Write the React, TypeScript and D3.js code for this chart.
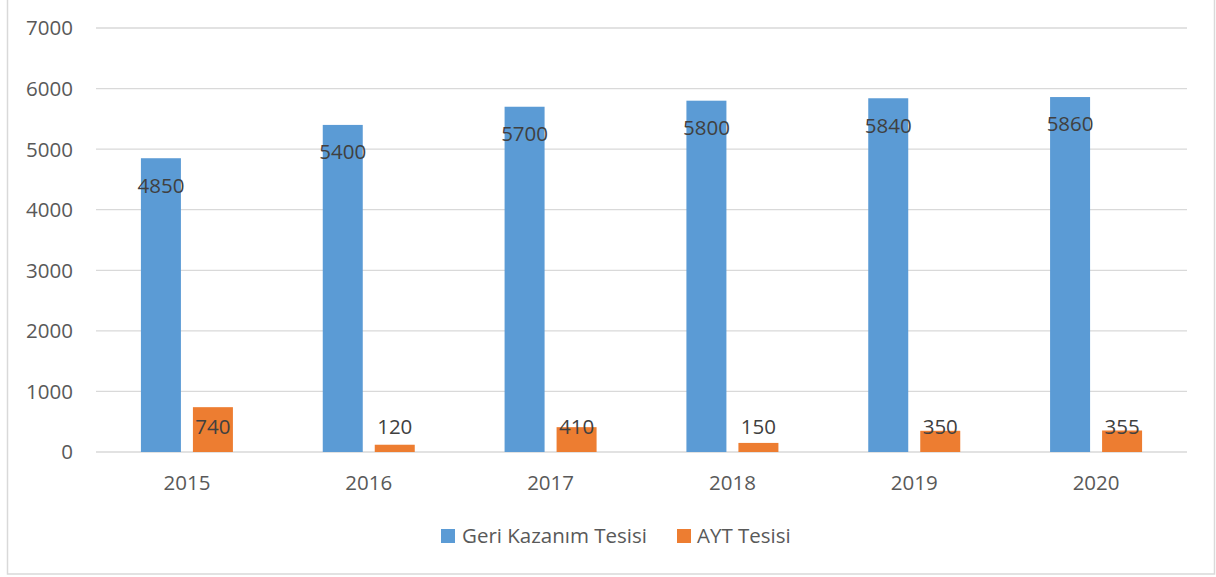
import React from 'react';
import * as d3 from 'd3';

const years = ['2015', '2016', '2017', '2018', '2019', '2020'];
const seriesNames = ['Geri Kazanım Tesisi', 'AYT Tesisi'];
const geriKazanim = [4850, 5400, 5700, 5800, 5840, 5860];
const aytTesisi = [740, 120, 410, 150, 350, 355];
const yTicks = [0, 1000, 2000, 3000, 4000, 5000, 6000, 7000];
const colors = ['#5B9BD5', '#ED7D31'];

const W = 1216;
const H = 577;
const FONT = '"Open Sans", Lato, sans-serif';
const FS = 20.5;

const App = () => {
  const x = d3.scaleBand<string>().domain(years).range([96, 1187]);
  const sub = d3.scaleBand<string>().domain(seriesNames).range([-46, 46]).paddingInner(12 / 52);
  const y = d3.scaleLinear().domain([0, 7000]).range([452, 28]);
  const values = [geriKazanim, aytTesisi];
  const y0 = y(0);

  return (
    <svg width={W} height={H} style={{ position: 'absolute', left: 0, top: 0 }} fontFamily={FONT}>
      <rect x={0} y={0} width={W} height={H} fill="#fff" />
      <rect x={7.5} y={-2} width={1207} height={576} fill="none" stroke="#D9D9D9" strokeWidth={1.5} />

      {/* grid + y labels */}
      {yTicks.map(t => (
        <g key={t}>
          <line x1={96} x2={1187} y1={y(t)} y2={y(t)} stroke="#D9D9D9" strokeWidth={1.3} />
          <text x={73} y={y(t)} dy="0.36em" textAnchor="end" fontSize={FS} fill="#595959">{t}</text>
        </g>
      ))}

      {/* bars */}
      {years.map((yr, i) => {
        const cx = (x(yr) ?? 0) + x.bandwidth() / 2;
        return (
          <g key={yr}>
            {seriesNames.map((s, k) => {
              const v = values[k][i];
              const bx = cx + (sub(s) ?? 0);
              const top = y(v);
              const ly = Math.min(top + 27, y0 - 25);
              return (
                <g key={s}>
                  <rect x={bx} y={top} width={sub.bandwidth()} height={y0 - top} fill={colors[k]} />
                  <text x={bx + sub.bandwidth() / 2} y={ly} dy="0.36em" textAnchor="middle" fontSize={FS} fill="#404040">{v}</text>
                </g>
              );
            })}
            <text x={cx} y={490} textAnchor="middle" fontSize={FS} fill="#595959">{yr}</text>
          </g>
        );
      })}

      {/* legend */}
      <g>
        <rect x={441} y={529} width={14} height={14} fill={colors[0]} />
        <text x={462} y={543} fontSize={FS} fill="#595959">{seriesNames[0]}</text>
        <rect x={677} y={529} width={14} height={14} fill={colors[1]} />
        <text x={697} y={543} fontSize={FS} fill="#595959">{seriesNames[1]}</text>
      </g>
    </svg>
  );
};

export default App;
